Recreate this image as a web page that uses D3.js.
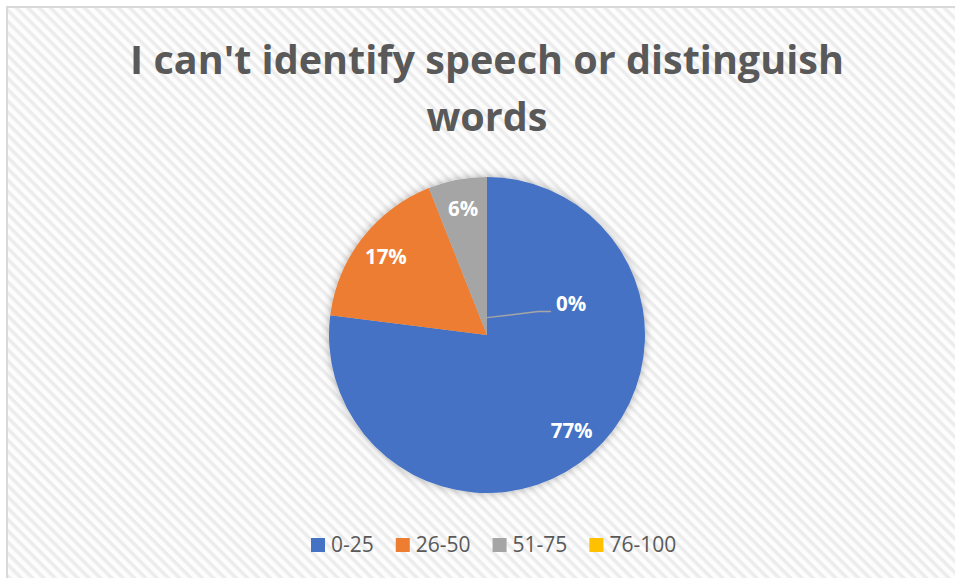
<!DOCTYPE html>
<html>
<head>
<meta charset="utf-8">
<script src="https://cdn.jsdelivr.net/npm/d3@7"></script>
<style>
  html, body { margin: 0; padding: 0; background: #ffffff; }
  svg { display: block; }
</style>
</head>
<body>
<svg id="chart" width="955" height="578"></svg>
<script>
// Share of respondents by score band
const titleLines = ["I can't identify speech or distinguish", "words"];
const categories = ["0-25", "26-50", "51-75", "76-100"];
const values = [77, 17, 6, 0];
const colors = ["#4472C4", "#ED7D31", "#A5A5A5", "#FFC000"];

const W = 955, H = 578;
const svg = d3.select("#chart");
const defs = svg.append("defs");

// light diagonal hatch for the chart area
const pat = defs.append("pattern")
  .attr("id", "hatch")
  .attr("patternUnits", "userSpaceOnUse")
  .attr("width", 8).attr("height", 8)
  .attr("patternTransform", "rotate(45)");
pat.append("rect").attr("width", 8).attr("height", 8).attr("fill", "#fdfdfd");
pat.append("rect").attr("y", 0).attr("width", 8).attr("height", 3.5).attr("fill", "#ececec");

const shadow = defs.append("filter").attr("id", "pieShadow")
  .attr("x", "-20%").attr("y", "-20%").attr("width", "140%").attr("height", "140%");
shadow.append("feDropShadow")
  .attr("dx", 0).attr("dy", 0).attr("stdDeviation", 4)
  .attr("flood-color", "#000").attr("flood-opacity", 0.3);

// chart area with its outline
svg.append("rect")
  .attr("x", 7).attr("y", 7).attr("width", W + 10).attr("height", H + 10)
  .attr("fill", "url(#hatch)")
  .attr("stroke", "#d9d9d9").attr("stroke-width", 2);

// title, sized to its line width
const font = "'Open Sans', 'Noto Sans', sans-serif";
const title = svg.append("g").attr("fill", "#595959")
  .attr("font-family", font).attr("font-weight", 700)
  .attr("text-anchor", "middle");
const t1 = title.append("text").attr("x", 487).attr("y", 74)
  .attr("font-size", 46).text(titleLines[0]);
const w1 = t1.node().getComputedTextLength();
const fs = 46 * 714 / w1;
t1.attr("font-size", fs);
title.append("text").attr("x", 487).attr("y", 131)
  .attr("font-size", fs).text(titleLines[1]);

// pie
const cx = 487, cy = 335, R = 158;
const pie = d3.pie().sort(null).value(d => d.value);
const data = pie(categories.map((c, i) => ({ cat: c, value: values[i], color: colors[i] })));
const arc = d3.arc().innerRadius(0).outerRadius(R);
const labelArc = d3.arc().innerRadius(R * 0.81).outerRadius(R * 0.81);

const g = svg.append("g").attr("transform", `translate(${cx},${cy})`);
g.append("g").attr("filter", "url(#pieShadow)")
  .selectAll("path").data(data).join("path")
  .attr("d", arc)
  .attr("fill", d => d.data.color);

const total = d3.sum(values);
const pct = v => Math.round(v / total * 100) + "%";

const labels = g.append("g")
  .attr("font-family", font).attr("font-weight", 700)
  .attr("font-size", 20.5).attr("fill", "#ffffff")
  .attr("text-anchor", "middle");

data.forEach(d => {
  if (d.data.value > 0) {
    const [x, y] = labelArc.centroid(d);
    labels.append("text").attr("x", x).attr("y", y).attr("dy", "0.35em").text(pct(d.data.value));
  } else {
    // zero slice: callout with leader line
    const a = d.startAngle;
    const p0 = [Math.sin(a) * R * 0.11, -Math.cos(a) * R * 0.11];
    const p1 = [p0[0] + 51, p0[1] - 6];
    const p2 = [p1[0] + 13, p1[1]];
    g.append("polyline")
      .attr("points", [p0, p1, p2].map(p => p.join(",")).join(" "))
      .attr("fill", "none").attr("stroke", "#a6a6a6").attr("stroke-width", 1.5);
    labels.append("text").attr("x", p2[0] + 5).attr("y", p2[1] - 8)
      .attr("dy", "0.35em").attr("text-anchor", "start")
      .text(pct(d.data.value));
  }
});

// legend
const legend = svg.append("g")
  .attr("font-family", font).attr("font-size", 21).attr("fill", "#595959");
let lx = 311;
const ly = 545;
categories.forEach((c, i) => {
  const item = legend.append("g");
  item.append("rect").attr("x", lx).attr("y", ly - 7).attr("width", 14).attr("height", 14)
    .attr("fill", colors[i]);
  const t = item.append("text").attr("x", lx + 20).attr("y", ly).attr("dy", "0.35em").text(c);
  lx += 20 + t.node().getComputedTextLength() + 22;
});
</script>
</body>
</html>
